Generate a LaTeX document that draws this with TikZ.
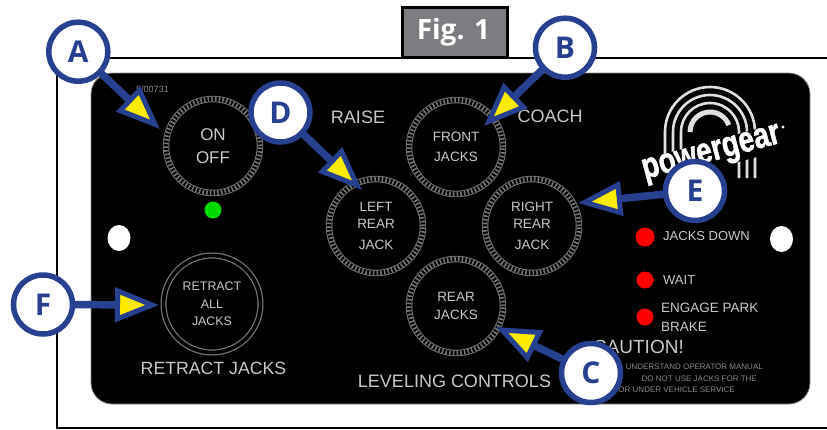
\documentclass[tikz,border=0pt]{standalone}
\usepackage{fontspec}
\setmainfont{Liberation Sans}
\newfontfamily\calloutfont{Open Sans}
\newfontfamily\logofont[FakeBold=1.6]{Liberation Sans Bold}
\usetikzlibrary{arrows.meta,shapes.geometric}
\definecolor{calloutblue}{HTML}{27408F}
\definecolor{calloutyellow}{HTML}{FFEB00}
\definecolor{figgray}{HTML}{7C7D80}
\definecolor{ringgray}{HTML}{777777}
\definecolor{printgray}{HTML}{C8C8C8}
\definecolor{finegray}{HTML}{8A8A8A}
\newcommand{\fsz}[1]{\fontsize{#1}{#1}\selectfont}
\tikzset{
  x=1pt,y=-1pt,
  callout/.style={circle,draw=calloutblue,fill=white,line width=5.5pt,minimum size=59pt,inner sep=0pt,outer sep=0pt,
    text=calloutblue,font=\calloutfont\bfseries\fsz{30}},
  pointer/.style={draw=calloutblue,line width=7.5pt,
    -{Triangle[length=44pt,width=34pt,line width=5pt,fill=calloutyellow,color=calloutblue]}},
  roperim/.style={circle,minimum size=94pt,inner sep=0pt,outer sep=0pt,draw=ringgray,line width=6.5pt,
    text=printgray,align=center,font=\fsz{13.5},
    postaction={draw=black,line width=4.6pt},
    postaction={draw=ringgray,line width=4.6pt,dash pattern=on 1.5pt off 2.2pt}},
  doublerim/.style={circle,minimum size=97pt,inner sep=0pt,outer sep=0pt,draw=ringgray,line width=1.2pt,double=black,double distance=3.6pt,
    text=printgray,align=center,font=\fsz{12.4}},
  paneltext/.style={text=printgray,inner sep=0pt,font=\fsz{18}},
  smalltext/.style={text=printgray,inner sep=0pt,font=\fsz{13},anchor=west},
  fineprint/.style={text=finegray,inner sep=0pt,font=\fsz{8},anchor=east},
  led/.style={circle,fill=#1,inner sep=0pt,minimum size=17pt},
  hole/.style={ellipse,fill=white,inner sep=0pt,minimum width=23pt,minimum height=26pt},
  logoarc/.style={draw=white!88!black,line width=2.6pt},
}
\begin{document}
\begin{tikzpicture}
\useasboundingbox (0,0) rectangle (827,429);
\fill[white] (0,0) rectangle (827,429);
% frame
\draw[black,line width=2.4pt] (827,58) -- (57,58) -- (57,428) -- (827,428);
% title tab
\node[draw=black,fill=figgray,line width=2.6pt,minimum width=105pt,minimum height=50pt,inner sep=0pt,
  text=white,font=\calloutfont\bfseries\fsz{28}] (fig) at (455,32.5) {\hspace*{-3pt}Fig. 1};
% panel
\fill[black,draw=black!45,line width=.8pt,rounded corners=21pt] (91,73) rectangle (810,404);
\node[text=finegray,inner sep=0pt,font=\fsz{9}] (code) at (152.5,89) {9/00731};
% mounting holes
\node[hole] (holeL) at (119,238) {};
\node[hole] (holeR) at (781.5,239) {};
% buttons
\node[roperim,font=\fsz{17}] (onoff) at (213,146) {ON\\[6pt]OFF};
\node[roperim] (front) at (456,147) {FRONT\\[7pt]JACKS};
\node[roperim] (left) at (376,226) {LEFT\\[3pt]REAR\\[8pt]JACK};
\node[roperim] (right) at (532,226) {RIGHT\\[3pt]REAR\\[8pt]JACK};
\node[roperim] (rear) at (456,306) {REAR\\[5pt]JACKS};
\node[doublerim] (retract) at (212,304) {RETRACT\\[5pt]ALL\\[5pt]JACKS};
% panel legends
\node[paneltext] (raise) at (358,117) {RAISE};
\node[paneltext] (coach) at (550,116) {COACH};
\node[paneltext,font=\fsz{17.7}] (retractlbl) at (213.5,368) {RETRACT JACKS};
\node[paneltext] (levellbl) at (454.5,381) {LEVELING CONTROLS};
\node[led=green!85!black] (ledgreen) at (213,210) {};
\node[led=red,minimum size=19pt] (ledA) at (645,237) {};
\node[led=red] (ledB) at (645,280) {};
\node[led=red] (ledC) at (645,317) {};
\node[smalltext] (txtA) at (663,236) {JACKS DOWN};
\node[smalltext] (txtB) at (663,280) {WAIT};
\node[smalltext,font=\fsz{13.5}] (txtC) at (661,308) {ENGAGE PARK};
\node[smalltext,font=\fsz{13.5}] (txtD) at (661,327) {BRAKE};
\node[paneltext,font=\fsz{19},anchor=east] (caution) at (684,347) {CAUTION!};
\node[fineprint] (fineA) at (763,367) {UNDERSTAND OPERATOR MANUAL};
\node[fineprint] (fineB) at (757,378.5) {DO NOT USE JACKS FOR THE};
\node[fineprint] (fineC) at (735,390) {OR UNDER VEHICLE SERVICE};
% logo
\draw[logoarc] (665,172) -- (665,132) arc[start angle=180,end angle=360,radius=45] -- (755,178);
\draw[logoarc] (673,172) -- (673,132) arc[start angle=180,end angle=360,radius=37] -- (747,178);
\draw[logoarc] (681,165) -- (681,132) arc[start angle=180,end angle=360,radius=29] -- (739,178);
\draw[logoarc,line width=5pt] (690,132) arc[start angle=180,end angle=340,radius=20];
\node[rotate=15,xscale=.78,fill=black,text=white,inner sep=0pt,font=\logofont\fsz{36}] (logo) at (712,155) {powergear};
\fill[white] (783,127) circle (1.6);
% callouts
\node[callout] (A) at (78.3,51.7) {A};
\node[callout] (B) at (565,47.7) {B};
\node[callout] (C) at (591,373) {C};
\node[callout] (D) at (280.5,112.5) {D};
\node[callout] (E) at (695,191) {E};
\node[callout] (F) at (43,304.5) {F};
\coordinate (tipA) at (160,129);
\coordinate (tipB) at (484,126);
\coordinate (tipC) at (496,327);
\coordinate (tipD) at (362,190);
\coordinate (tipE) at (578,203);
\coordinate (tipF) at (159,305);
\draw[pointer] (A) -- (tipA);
\draw[pointer] (B) -- (tipB);
\draw[pointer] (C) -- (tipC);
\draw[pointer] (D) -- (tipD);
\draw[pointer] (E) -- (tipE);
\draw[pointer] (F) -- (tipF);
\end{tikzpicture}
\end{document}
